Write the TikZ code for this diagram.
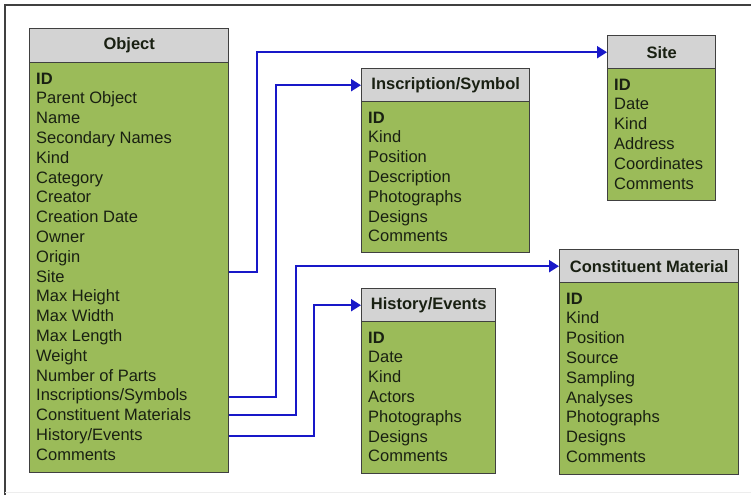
\documentclass[tikz,border=0pt]{standalone}
\usepackage{fontspec}
\setmainfont{Liberation Sans}
\usetikzlibrary{arrows.meta,calc}
\definecolor{boxgreen}{RGB}{155,187,89}
\definecolor{headgray}{RGB}{211,211,211}
\definecolor{edgegray}{RGB}{64,64,64}
\definecolor{linkblue}{RGB}{24,24,200}
\definecolor{txt}{RGB}{25,32,18}
\newcommand\mkentity[8]{%
  \node[headbox, minimum width=#4pt, minimum height=#5pt] (#1-head) at (#2,#3) {#7};
  \node[bodybox, minimum width=#4pt, minimum height=#6pt] (#1-body) at (#2,#3+#5) {};
  \node[rowtext, font=\bfseries\fontsize{16.5}{19.8}\selectfont] (#1-r0) at (#2+7,#3+#5+22) {ID};
  \foreach \t [count=\i] in {#8} {
    \node[rowtext] (#1-r\i) at (#2+7,#3+#5+22+\i*19.8) {\t};
  }
}
\begin{document}
\begin{tikzpicture}[x=1pt,y=-1pt,
  headbox/.style={draw=edgegray, line width=1.4pt, fill=headgray, anchor=north west, inner sep=0pt,
    font=\bfseries\fontsize{16.5}{19.8}\selectfont, text=txt},
  bodybox/.style={draw=edgegray, line width=1.4pt, fill=boxgreen, anchor=north west, inner sep=0pt},
  rowtext/.style={anchor=base west, inner sep=0pt, text=txt, font=\fontsize{16.5}{19.8}\selectfont},
  link/.style={draw=linkblue, line width=2pt, -{Triangle[length=10pt,width=12pt]}},
  framebox/.style={draw=edgegray, line width=1.4pt}]
\useasboundingbox (0,0) rectangle (751,495);
\fill[white] (0,0) rectangle (751,495);
\draw[framebox] (5,495) -- (5,5) -- (751,5);
\draw[black!7, line width=1pt] (5,492) -- (751,492);

\mkentity{obj}{29}{28}{199}{34}{410}{Object}{Parent Object,Name,Secondary Names,Kind,Category,Creator,Creation Date,Owner,Origin,Site,Max Height,Max Width,Max Length,Weight,Number of Parts,Inscriptions/Symbols,Constituent Materials,History/Events,Comments}
\mkentity{ins}{361}{68}{168}{33}{151}{Inscription/Symbol}{Kind,Position,Description,Photographs,Designs,Comments}
\mkentity{site}{607}{35}{108}{33}{132}{Site}{Date,Kind,Address,Coordinates,Comments}
\mkentity{hist}{361}{288}{134}{33}{152}{History/Events}{Date,Kind,Actors,Photographs,Designs,Comments}
\mkentity{mat}{559}{249}{179}{33}{192}{Constituent Material}{Kind,Position,Source,Sampling,Analyses,Photographs,Designs,Comments}

\draw[link] ($(obj-body.east |- obj-r10.center)+(0,-4)$) -- ++(28,0) |- (site-head.west);
\draw[link] (obj-body.east |- obj-r16.center) -- ++(47,0) |- (ins-head.west);
\draw[link] (obj-body.east |- obj-r17.center) -- ++(67,0) |- (mat-head.west);
\draw[link] (obj-body.east |- obj-r18.center) -- ++(85,0) |- (hist-head.west);
\end{tikzpicture}
\end{document}
